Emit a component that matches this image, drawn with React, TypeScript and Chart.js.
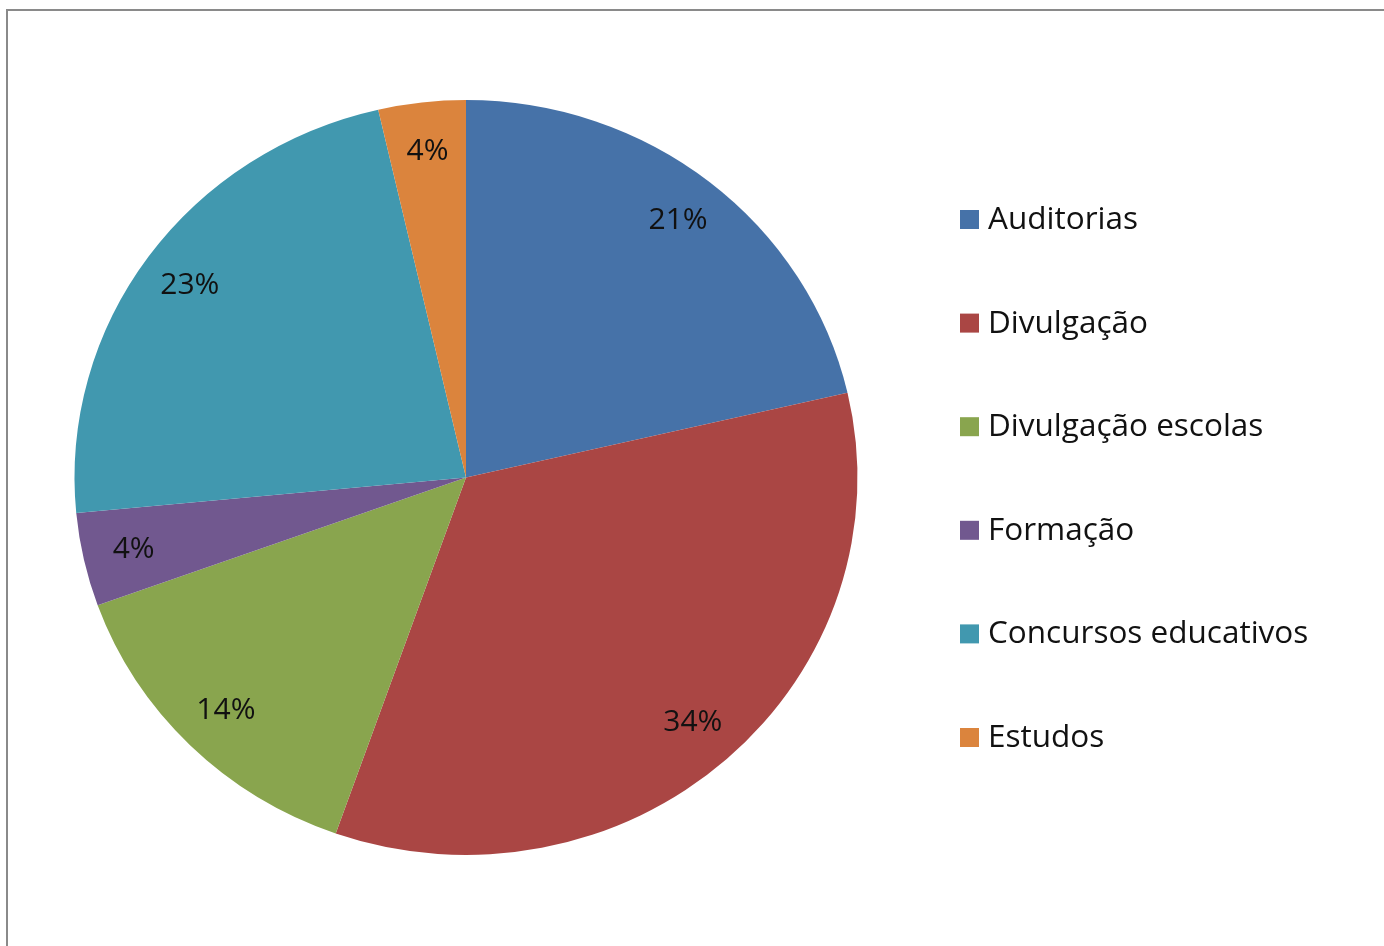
import React, { useEffect, useRef } from "react";
import { Chart, registerables } from "chart.js";

Chart.register(...registerables);

const categories = [
  "Auditorias",
  "Divulgação",
  "Divulgação escolas",
  "Formação",
  "Concursos educativos",
  "Estudos",
];
const values = [21.4, 34.0, 14.1, 4.0, 22.9, 3.6];
const colors = ["#4672A8", "#AA4644", "#89A54E", "#71588F", "#4198AF", "#DB843D"];

const FONT = "'Open Sans', 'Noto Sans', sans-serif";
const SX = 1.0195;
const SY = 0.983;

// Excel's pie is slightly elliptical; squash the drawn arcs around their centre.
const ellipse = {
  id: "ellipse",
  beforeDatasetsDraw(chart: any) {
    const el = chart.getDatasetMeta(0).data[0];
    if (!el) return;
    const ctx = chart.ctx;
    ctx.save();
    ctx.translate(el.x, el.y);
    ctx.scale(SX, SY);
    ctx.translate(-el.x, -el.y);
  },
  afterDatasetsDraw(chart: any) {
    chart.ctx.restore();
  },
};

const pctLabels = {
  id: "pctLabels",
  afterDatasetsDraw(chart: any) {
    const ctx = chart.ctx;
    const meta = chart.getDatasetMeta(0);
    const data = chart.data.datasets[0].data as number[];
    const total = data.reduce((a, b) => a + b, 0);
    ctx.save();
    ctx.font = `30px ${FONT}`;
    ctx.fillStyle = "#111";
    ctx.textAlign = "center";
    ctx.textBaseline = "middle";
    meta.data.forEach((el: any, i: number) => {
      const p = el.getProps(["x", "y", "startAngle", "endAngle", "outerRadius"], true);
      const mid = (p.startAngle + p.endAngle) / 2;
      const r = p.outerRadius * 0.87;
      const x = p.x + Math.cos(mid) * r * SX;
      const y = p.y + Math.sin(mid) * r * SY;
      ctx.fillText(`${Math.round((data[i] / total) * 100)}%`, x, y);
    });
    ctx.restore();
  },
};

const sideLegend = {
  id: "sideLegend",
  afterDraw(chart: any) {
    const ctx = chart.ctx;
    const labels = chart.data.labels as string[];
    const bg = chart.data.datasets[0].backgroundColor as string[];
    ctx.save();
    ctx.font = `31.5px ${FONT}`;
    ctx.textAlign = "left";
    ctx.textBaseline = "alphabetic";
    labels.forEach((lab, i) => {
      const top = 199 + i * 103.6;
      ctx.fillStyle = bg[i];
      ctx.fillRect(952, top, 19, 19);
      ctx.fillStyle = "#111";
      ctx.fillText(lab, 980, top + 19);
    });
    ctx.restore();
  },
};

export default function App() {
  const ref = useRef<HTMLCanvasElement | null>(null);
  useEffect(() => {
    if (!ref.current) return;
    const chart = new Chart(ref.current, {
      type: "pie",
      data: {
        labels: categories,
        datasets: [
          {
            data: values,
            backgroundColor: colors,
            borderWidth: 0,
          },
        ],
      },
      options: {
        animation: false,
        responsive: false,
        layout: { padding: { left: 73.5, top: 82.5, right: 533.5, bottom: 84.5 } },
        plugins: {
          legend: { display: false },
          tooltip: { enabled: false },
        },
      },
      plugins: [ellipse, pctLabels, sideLegend],
    });
    return () => chart.destroy();
  }, []);
  return (
    <div
      style={{
        position: "fixed",
        left: 6,
        top: 9,
        width: 1400,
        height: 960,
        borderLeft: "2px solid #8a8a8a",
        borderTop: "2px solid #8a8a8a",
        background: "#fff",
        overflow: "hidden",
      }}
    >
      <canvas ref={ref} width={1376} height={935} style={{ display: "block" }} />
    </div>
  );
}
